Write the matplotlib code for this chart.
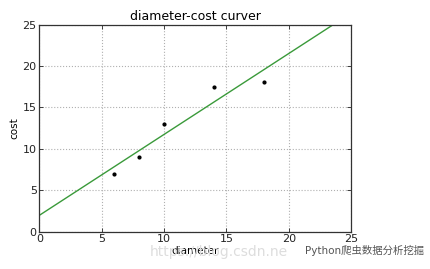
import matplotlib
matplotlib.use("Agg")
import matplotlib.pyplot as plt
import numpy as np

diameter = [6, 8, 10, 14, 18]
cost = [7, 9, 13, 17.5, 18]
line_x = [0, 25]
ticks = [0, 5, 10, 15, 20, 25]

plt.rcParams['font.family'] = ['DejaVu Sans', 'Noto Sans CJK SC']

fig = plt.figure(figsize=(4.31, 2.69), dpi=100)
ax = fig.add_axes([39.5/431, 1-231.5/269, (351-39.5)/431, (231.5-24.5)/269])

slope, intercept = np.polyfit(diameter, cost, 1)
lx = np.array(line_x, dtype=float)
ax.plot(lx, slope*lx + intercept, color='#3a9a3a', lw=1.0)
ax.plot(diameter, cost, 'k.', ms=4)

ax.set_xlim(0, 25)
ax.set_ylim(0, 25)
ax.set_xticks(ticks)
ax.set_yticks(ticks)
ax.tick_params(direction='in', top=True, right=True, labelsize=8, length=3, width=0.6, pad=2, colors='#222222')
ax.grid(True, linestyle=':', color='#b0b0b0', lw=0.8)
for s in ax.spines.values():
    s.set_linewidth(0.9)
    s.set_color('#333333')
ax.set_title('diameter-cost curver', fontsize=9, pad=3)
ax.set_xlabel('diameter', fontsize=7.5, labelpad=1)
ax.set_ylabel('cost', fontsize=7.5, labelpad=2)

fig.text(150/431, 1-252/269, 'https://blog.csdn.ne', fontsize=10, color='#dddddd', va='center', ha='left', zorder=0)
fig.text(305/431, 1-250/269, 'Python爬虫数据分析挖掘', fontsize=7.5, color='#555555', va='center', ha='left',
         family=['DejaVu Sans', 'Noto Sans CJK SC'])

fig.savefig('out.png', dpi=100)
